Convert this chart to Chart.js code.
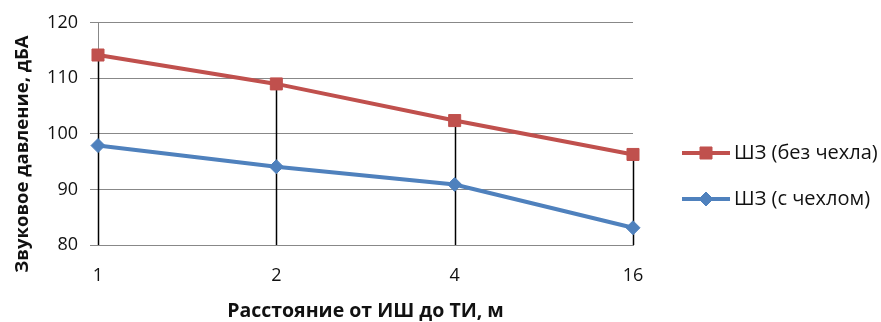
<!DOCTYPE html>
<html>
<head>
<meta charset="utf-8">
<script src="https://cdn.jsdelivr.net/npm/chart.js@4.4.1/dist/chart.umd.min.js"></script>
<style>
  html, body { margin: 0; padding: 0; background: #fff; }
  #wrap { width: 881px; height: 322px; }
</style>
</head>
<body>
<div id="wrap"><canvas id="noiseChart" width="881" height="322"></canvas></div>
<script>
const distances = ['1', '2', '4', '16'];
const noCover = [114.2, 109.0, 102.4, 96.3];
const withCover = [97.9, 94.1, 90.9, 83.1];
const yTicks = [80, 90, 100, 110, 120];

const labelNoCover = 'ШЗ (без чехла)';
const labelWithCover = 'ШЗ (с чехлом)';
const yTitle = 'Звуковое давление, дБА';
const xTitle = 'Расстояние от ИШ до ТИ, м';

const RED = '#C0504D';
const BLUE = '#4F81BD';
const FONT = '"Open Sans", "Liberation Sans", sans-serif';

// black drop lines from the red points down to the x axis
const dropLines = {
  id: 'dropLines',
  beforeDatasetsDraw(chart) {
    const ctx = chart.ctx;
    const bottom = chart.chartArea.bottom;
    ctx.save();
    ctx.strokeStyle = '#000';
    ctx.lineWidth = 1.5;
    chart.getDatasetMeta(0).data.forEach(pt => {
      ctx.beginPath();
      ctx.moveTo(Math.round(pt.x) + 0.5, pt.y);
      ctx.lineTo(Math.round(pt.x) + 0.5, bottom);
      ctx.stroke();
    });
    ctx.restore();
  }
};

// rotated y title and the legend on the right
const extras = {
  id: 'extras',
  afterDraw(chart) {
    const ctx = chart.ctx;
    ctx.save();
    ctx.fillStyle = '#111';
    ctx.font = 'bold 18.5px ' + FONT;
    ctx.textAlign = 'center';
    ctx.textBaseline = 'middle';
    ctx.translate(23, 154);
    ctx.rotate(-Math.PI / 2);
    ctx.fillText(yTitle, 0, 0);
    ctx.restore();

    const items = [
      { text: labelNoCover, color: RED, style: 'rect', r: 8.5, y: 153 },
      { text: labelWithCover, color: BLUE, style: 'rectRot', r: 7, y: 199 }
    ];
    ctx.save();
    items.forEach(it => {
      ctx.strokeStyle = it.color;
      ctx.lineWidth = 4;
      ctx.beginPath();
      ctx.moveTo(682, it.y);
      ctx.lineTo(730, it.y);
      ctx.stroke();
      ctx.fillStyle = it.color;
      ctx.lineWidth = 1;
      Chart.helpers.drawPoint(ctx, { pointStyle: it.style, radius: it.r, borderWidth: 1 }, 706, it.y);
      ctx.fill();
      ctx.fillStyle = '#111';
      ctx.font = '20px ' + FONT;
      ctx.textAlign = 'left';
      ctx.textBaseline = 'middle';
      ctx.fillText(it.text, 734, it.y);
    });
    ctx.restore();
  }
};

new Chart(document.getElementById('noiseChart'), {
  type: 'line',
  data: {
    labels: distances,
    datasets: [
      {
        label: labelNoCover, data: noCover,
        borderColor: RED, backgroundColor: RED, borderWidth: 4,
        pointStyle: 'rect', pointRadius: 8.5, pointBorderWidth: 1, tension: 0
      },
      {
        label: labelWithCover, data: withCover,
        borderColor: BLUE, backgroundColor: BLUE, borderWidth: 4,
        pointStyle: 'rectRot', pointRadius: 7, pointBorderWidth: 1, tension: 0
      }
    ]
  },
  options: {
    responsive: false,
    animation: false,
    layout: { padding: { left: 0, right: 248, top: 22, bottom: 0 } },
    plugins: { legend: { display: false }, tooltip: { enabled: false } },
    scales: {
      x: {
        offset: false,
        grid: { display: false, drawTicks: false },
        border: { color: '#888', width: 1 },
        ticks: { color: '#111', font: { family: FONT, size: 18 }, padding: 20, maxRotation: 0 },
        title: { display: true, text: xTitle, color: '#111', font: { family: FONT, size: 19.5, weight: 'bold' }, padding: { top: 0, bottom: -1 } },
        afterFit(scale) { scale.height = 77; }
      },
      y: {
        min: 80, max: 120,
        afterBuildTicks(scale) { scale.ticks = yTicks.map(v => ({ value: v })); },
        grid: { color: '#888', lineWidth: 1, tickLength: 8 },
        border: { color: '#888', width: 1 },
        ticks: { color: '#111', font: { family: FONT, size: 18 }, padding: 12 },
        afterFit(scale) { scale.width = 98; }
      }
    }
  },
  plugins: [dropLines, extras]
});
</script>
</body>
</html>
